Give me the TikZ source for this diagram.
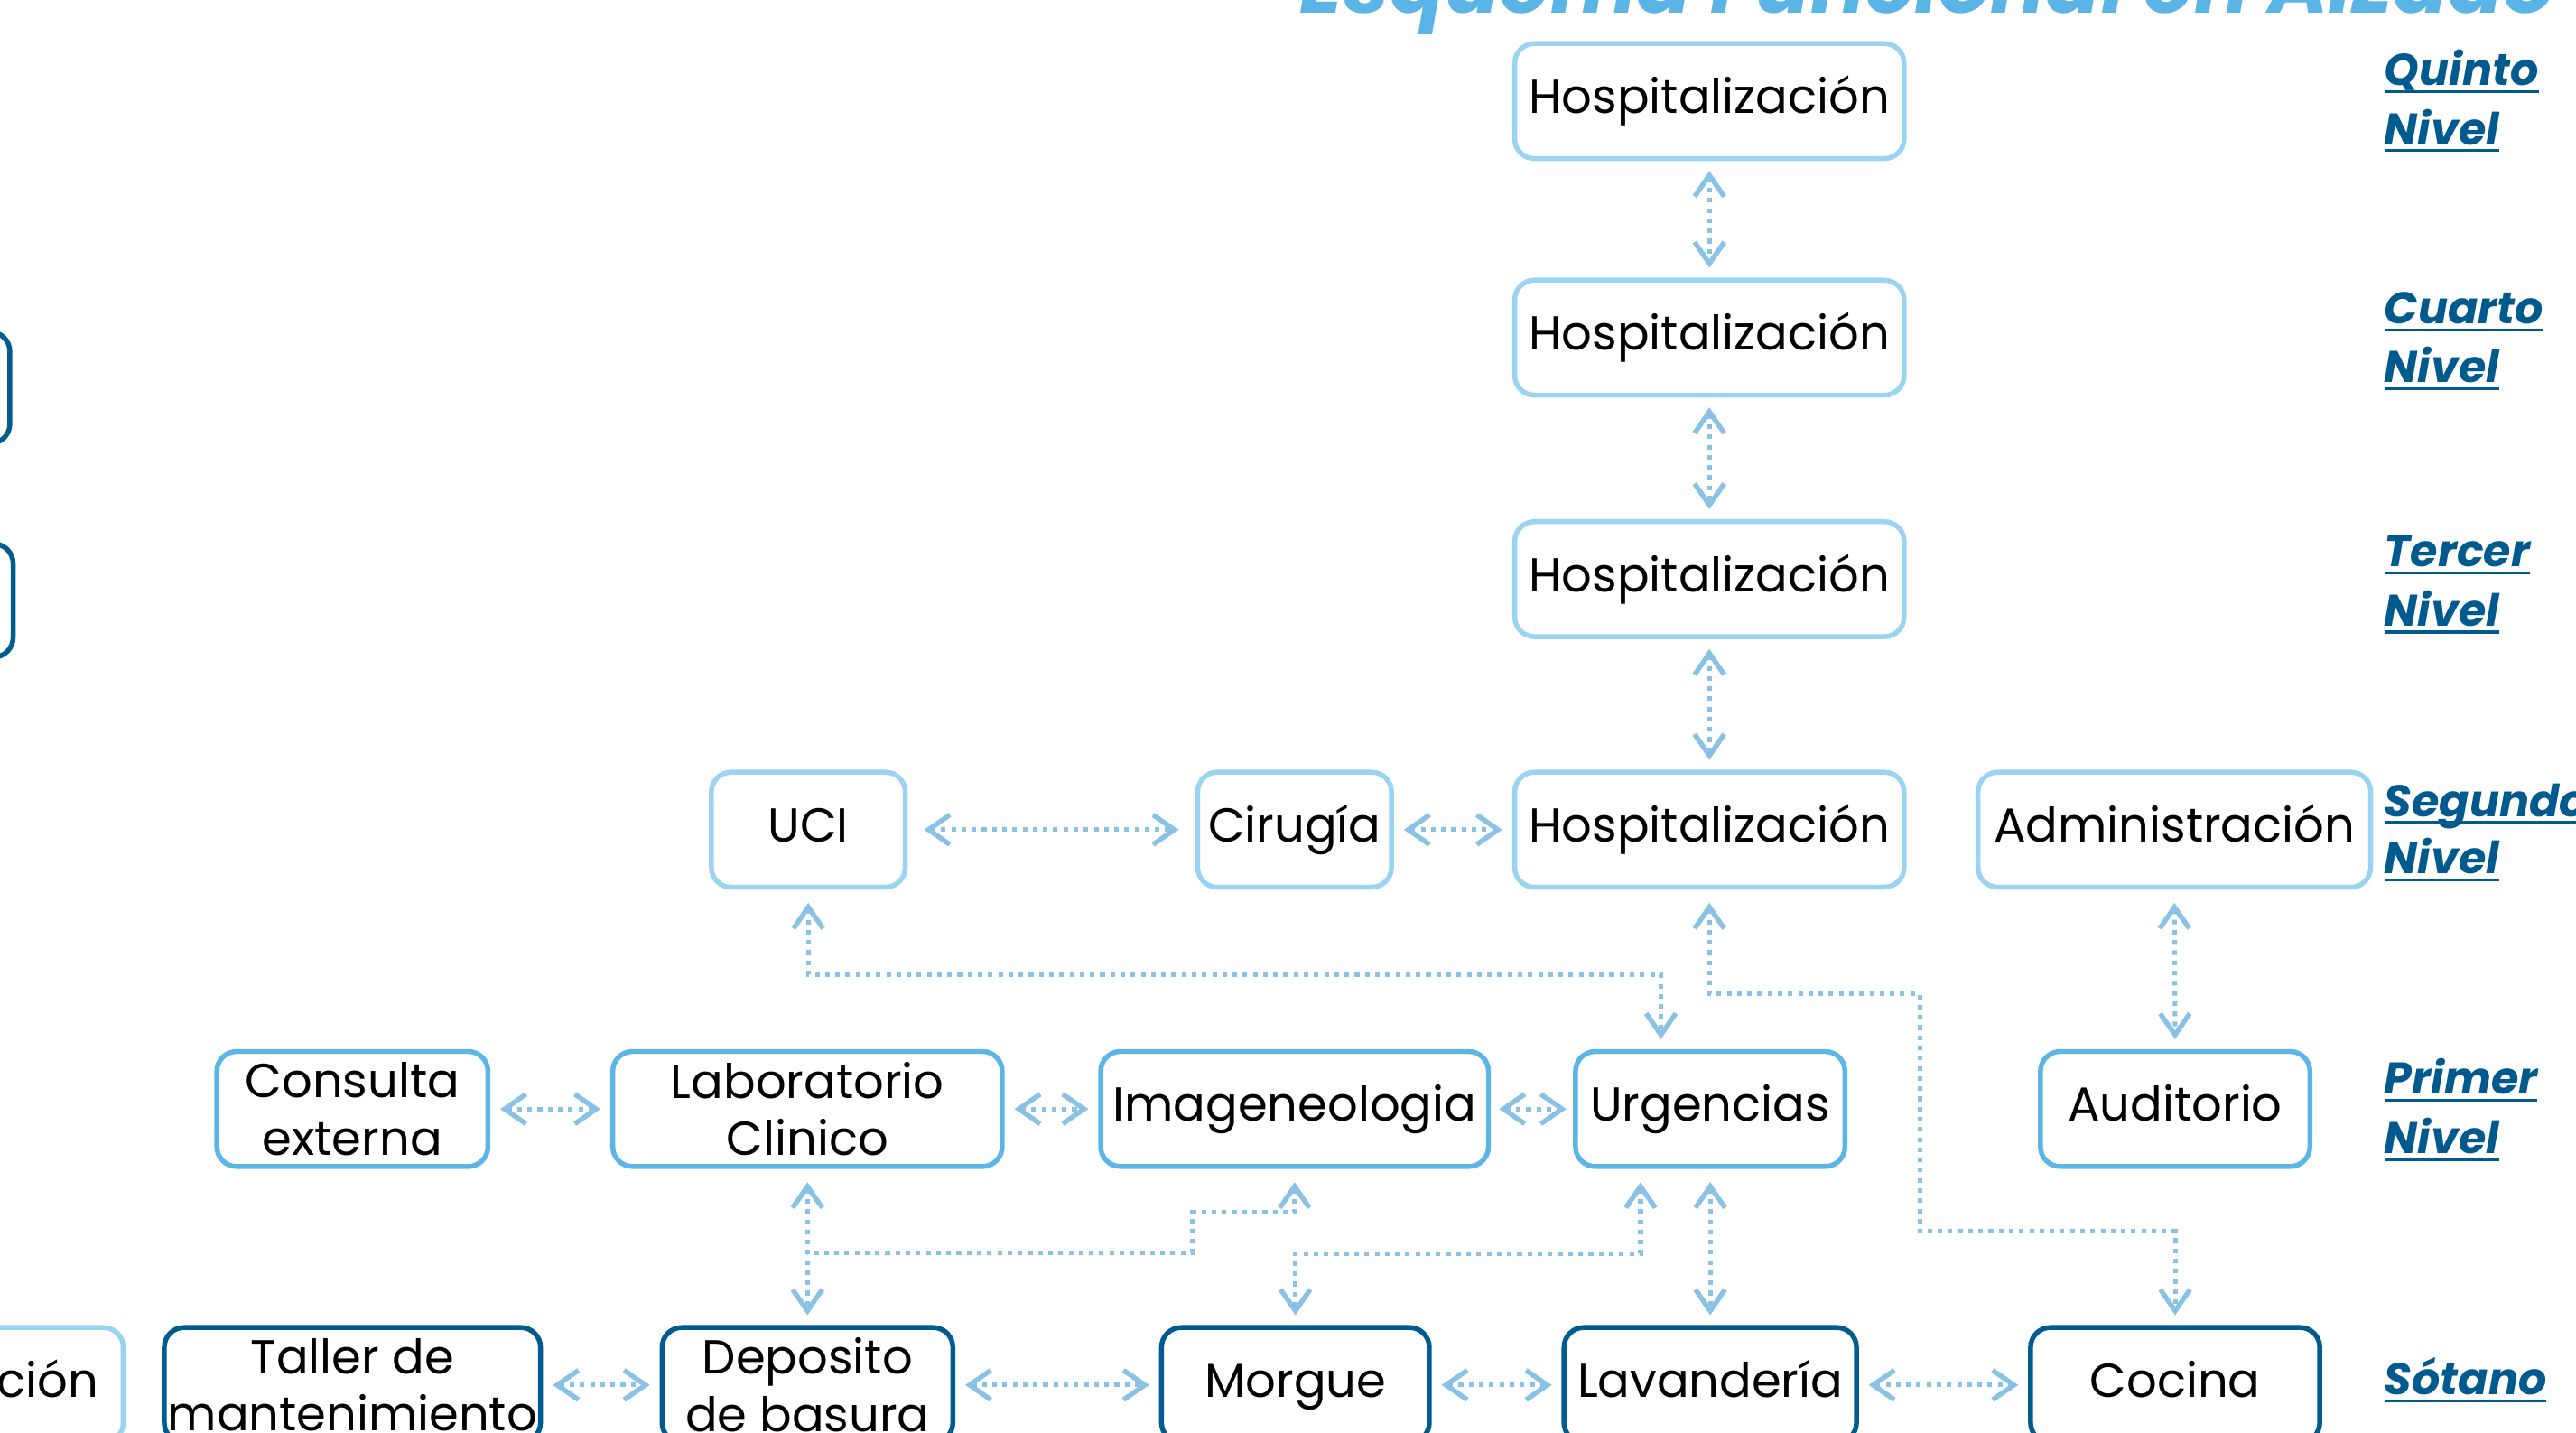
\documentclass[tikz,border=0pt]{standalone}
\usepackage{fontspec}
\setmainfont{Poppins}
\usetikzlibrary{arrows.meta,calc}
\definecolor{cLight}{HTML}{9BD3F3}
\definecolor{cMed}{HTML}{5BB5E7}
\definecolor{cDark}{HTML}{005B8F}
\definecolor{cArrow}{HTML}{8AC2E6}
\definecolor{cTitle}{HTML}{5BB4E6}
\definecolor{cLvl}{HTML}{005A8E}
\newcommand\lvlword[1]{\setbox0\hbox{#1}\rlap{\rule[-2.3pt]{\wd0}{0.9pt}}\box0}
\begin{document}
\begin{tikzpicture}[x=0.5pt,y=-0.5pt,
  box/.style={draw, rounded corners=6pt, line width=1.5pt, fill=white,
    minimum height=35pt, inner sep=0pt, align=center,
    font=\fontsize{14.5pt}{17.5pt}\selectfont},
  single/.style={text height=11pt, text depth=3.5pt},
  lb/.style={box, draw=cLight},
  mb/.style={box, draw=cMed},
  db/.style={box, draw=cDark},
  tip/.tip={Straight Barb[length=6.5pt,width=9pt,line width=1.5pt,sharp]},
  conn/.style={draw=cArrow, line width=1.4pt, dash pattern=on 1.4pt off 1.7pt,
    shorten >=3pt, shorten <=3pt},
  both/.style={conn, tip-tip},
  one/.style={conn, tip-},
  lvl/.style={anchor=base west, inner sep=0pt, text=cLvl,
    font=\fontsize{13.5pt}{16pt}\selectfont\bfseries\itshape},
]
\path[use as bounding box] (0,0) rectangle (1568,872);
\clip (0,0) rectangle (1568,872);

% title
\node[anchor=base west, inner sep=0pt, text=cTitle,
  font=\bfseries\itshape] (title) at (791,8)
  {\resizebox{382pt}{!}{Esquema Funcional en Alzado}};

% level labels
\node[lvl] (q1) at (1451,52) {\lvlword{Quinto}};
\node[lvl] (q2) at (1451,88) {\lvlword{Nivel}};
\node[lvl] (c1) at (1451,197) {\lvlword{Cuarto}};
\node[lvl] (c2) at (1451,233) {\lvlword{Nivel}};
\node[lvl] (t1) at (1451,345) {\lvlword{Tercer}};
\node[lvl] (t2) at (1451,381) {\lvlword{Nivel}};
\node[lvl] (s1) at (1451,497) {\lvlword{Segundo}};
\node[lvl] (s2) at (1451,532) {\lvlword{Nivel}};
\node[lvl] (p1) at (1451,666) {\lvlword{Primer}};
\node[lvl] (p2) at (1451,702) {\lvlword{Nivel}};
\node[lvl] (so) at (1451,849) {\lvlword{Sótano}};

% left partial boxes
\node[db, minimum width=78pt, minimum height=34pt] (L1) at (-72,236) {};
\node[db, minimum width=79pt, minimum height=34.5pt] (L2) at (-71,365.5) {};

% second level and above
\node[lb, single, minimum width=118.5pt] (H5) at (1040.5,61.5) {Hospitalización};
\node[lb, single, minimum width=118.5pt] (H4) at (1040.5,205.5) {Hospitalización};
\node[lb, single, minimum width=118.5pt] (H3) at (1040.5,352.5) {Hospitalización};
\node[lb, single, minimum width=118.5pt] (H2) at (1040.5,505) {Hospitalización};
\node[lb, single, minimum width=59pt] (UCI) at (492,505) {UCI};
\node[lb, single, minimum width=59pt] (Cir) at (788,505) {Cirugía};
\node[lb, single, minimum width=119.5pt] (Adm) at (1323.5,505) {Administración};

% first level
\node[mb, minimum width=82.5pt] (Con) at (214.5,675) {Consulta\\externa};
\node[mb, minimum width=118.5pt] (Lab) at (491.5,675) {Laboratorio\\Clinico};
\node[mb, single, minimum width=118pt] (Ima) at (788,675) {Imageneologia};
\node[mb, single, minimum width=82pt] (Urg) at (1041,675) {Urgencias};
\node[mb, single, minimum width=82pt] (Aud) at (1324,675) {Auditorio};

% basement
\node[lb, single, minimum width=100pt, text width=85pt, align=right] (cion) at (-25,843) {ción};
\node[db, minimum width=114.5pt] (Tal) at (214.5,843) {Taller de\\mantenimiento};
\node[db, minimum width=88.5pt] (Dep) at (491.5,843) {Deposito\\de basura};
\node[db, single, minimum width=81.5pt] (Mor) at (788.5,843) {Morgue};
\node[db, single, minimum width=89pt] (Lav) at (1041,843) {Lavandería};
\node[db, single, minimum width=88pt] (Coc) at (1324,843) {Cocina};

% helper coordinates
\coordinate (u1) at (492,593);
\coordinate (u2) at (1011,593);
\coordinate (k1) at (1040.5,605);
\coordinate (k2) at (1168.5,605);
\coordinate (k3) at (1168.5,749.5);
\coordinate (k4) at (1324,749.5);
\coordinate (i1) at (788,738);
\coordinate (i2) at (725.5,738);
\coordinate (i3) at (725.5,762.5);
\coordinate (i4) at (491.5,762.5);
\coordinate (m1) at (998.6,763);
\coordinate (m2) at (788.5,763);

% vertical hospitalization chain
\draw[both] (H5.south) -- (H4.north);
\draw[both] (H4.south) -- (H3.north);
\draw[both] (H3.south) -- (H2.north);
% second level horizontals
\draw[both, shorten <=5pt, shorten >=5pt] (UCI.east) -- (Cir.west);
\draw[both] (Cir.east) -- (H2.west);
% UCI - Urgencias
\draw[both, shorten <=4pt] (UCI.south) -- (u1) -- (u2) -- (u2 |- Urg.north);
% Hospitalizacion - Cocina
\draw[both, shorten <=4pt] (H2.south) -- (k1) -- (k2) -- (k3) -- (k4) -- (Coc.north);
% Administracion - Auditorio
\draw[both, shorten <=4pt] (Adm.south) -- (Aud.north);
% first level horizontals
\draw[both] (Con.east) -- (Lab.west);
\draw[both] (Lab.east) -- (Ima.west);
\draw[both, shorten <=2.5pt, shorten >=2pt] (Ima.east) -- (Urg.west);
% first level - basement
\draw[both, shorten <=4pt] (Lab.south) -- (Dep.north);
\draw[one, shorten <=4pt, shorten >=0pt] (Ima.south) -- (i1) -- (i2) -- (i3) -- (i4);
\draw[both, shorten <=4pt] (m1 |- Urg.south) -- (m1) -- (m2) -- (Mor.north);
\draw[both, shorten <=4pt] (Urg.south) -- (Lav.north);
% basement horizontals
\draw[both] (Tal.east) -- (Dep.west);
\draw[both] (Dep.east) -- (Mor.west);
\draw[both] (Mor.east) -- (Lav.west);
\draw[both] (Lav.east) -- (Coc.west);
\end{tikzpicture}
\end{document}
